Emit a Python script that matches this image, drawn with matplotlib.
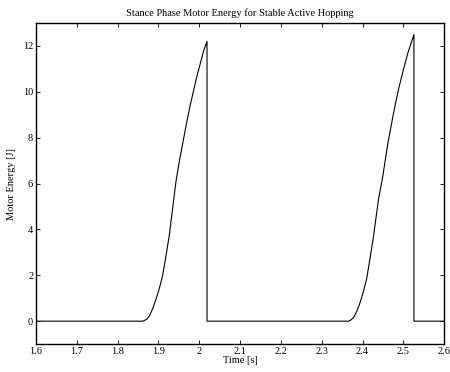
import matplotlib
matplotlib.use("Agg")
import matplotlib.pyplot as plt

# motor energy trace (two stance phases, vertical drop at take-off)
time_s = [1.600, 1.861, 1.866, 1.872, 1.878, 1.886, 1.894, 1.902, 1.910, 1.918, 1.927, 1.935,
          1.943, 1.952, 1.961, 1.969, 1.977, 1.986, 1.994, 2.002, 2.010, 2.019, 2.019,
          2.365, 2.370, 2.378, 2.386, 2.394, 2.402, 2.410, 2.418, 2.427, 2.433, 2.439, 2.449,
          2.462, 2.476, 2.488, 2.500, 2.512, 2.526, 2.526, 2.600]
energy_j = [0.0, 0.0, 0.03, 0.10, 0.23, 0.55, 0.96, 1.42, 1.97, 2.80, 3.80, 4.95,
            6.10, 7.05, 7.90, 8.65, 9.35, 10.05, 10.67, 11.20, 11.75, 12.20, 0.0,
            0.0, 0.03, 0.16, 0.43, 0.81, 1.28, 1.83, 2.70, 3.71, 4.50, 5.30, 6.25,
            7.75, 9.07, 10.10, 10.96, 11.75, 12.50, 0.0, 0.0]

plt.rcParams["font.family"] = ["Liberation Serif", "DejaVu Serif"]
plt.rcParams["font.size"] = 7.5

fig = plt.figure(figsize=(4.5, 3.72), dpi=100)
ax = fig.add_axes([0.08, 0.075, 0.907, 0.863])
ax.plot(time_s, energy_j, color="black", lw=0.8)
ax.set_xlim(1.6, 2.6); ax.set_ylim(-1, 13)
ax.set_xticks([1.6, 1.7, 1.8, 1.9, 2.0, 2.1, 2.2, 2.3, 2.4, 2.5, 2.6])
ax.set_xticklabels(["1.6", "1.7", "1.8", "1.9", "2", "2.1", "2.2", "2.3", "2.4", "2.5", "2.6"])
ax.set_yticks([0, 2, 4, 6, 8, 10, 12])
ax.tick_params(direction="in", top=True, right=True, length=3, width=0.6, pad=2, labelsize=7.5)
for s in ax.spines.values():
    s.set_linewidth(1.0)
ax.set_xlabel("Time [s]", labelpad=0)
ax.set_ylabel("Motor Energy [J]", labelpad=5)
ax.set_title("Stance Phase Motor Energy for Stable Active Hopping", fontsize=7.5, pad=5)
fig.savefig("out.png", dpi=100)
